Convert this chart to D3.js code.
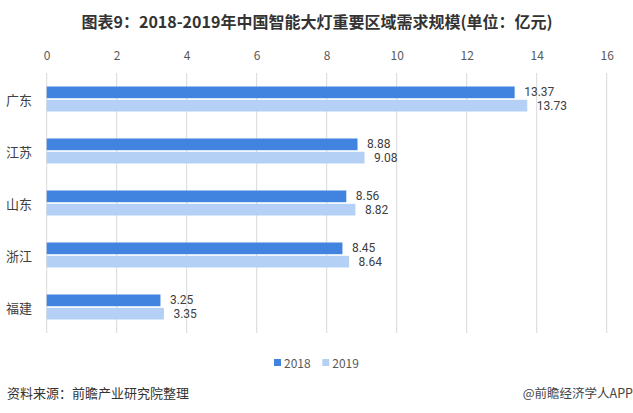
<!DOCTYPE html>
<html>
<head>
<meta charset="utf-8">
<script src="https://cdn.jsdelivr.net/npm/d3@7"></script>
<style>
  html, body { margin: 0; padding: 0; background: #fff; }
  svg { display: block; font-family: "Noto Sans CJK SC", "Noto Sans", sans-serif; }
</style>
</head>
<body>
<svg id="chart" width="633" height="413"></svg>
<script>
const categories = ["广东", "江苏", "山东", "浙江", "福建"];
const seriesNames = ["2018", "2019"];
const values2018 = [13.37, 8.88, 8.56, 8.45, 3.25];
const values2019 = [13.73, 9.08, 8.82, 8.64, 3.35];
const xTicks = [0, 2, 4, 6, 8, 10, 12, 14, 16];
const colors = ["#4184e0", "#b4d0f5"];
const titleText = "图表9：2018-2019年中国智能大灯重要区域需求规模(单位：亿元)";
const sourceText = "资料来源：前瞻产业研究院整理";
const brandText = "@前瞻经济学人APP";

(function () {
const svg = d3.select("#chart");
const plotLeft = 46.7, plotRight = 606.7, plotTop = 73, plotBottom = 333;

const x = d3.scaleLinear().domain([0, 16]).range([plotLeft, plotRight]);
const y = d3.scaleBand().domain(categories).range([plotTop, plotBottom]).padding(0);
const inner = d3.scaleBand().domain(seriesNames).range([13.5, 38.5]).paddingInner(0.12).paddingOuter(0);

// title
svg.append("text")
  .attr("x", 317).attr("y", 21)
  .attr("text-anchor", "middle").attr("dominant-baseline", "central")
  .attr("font-size", 16).attr("font-weight", "bold").attr("fill", "#333")
  .text(titleText);

// gridlines
svg.append("g").selectAll("line").data(xTicks).join("line")
  .attr("x1", d => x(d)).attr("x2", d => x(d))
  .attr("y1", plotTop).attr("y2", plotBottom)
  .attr("stroke", "#d9d9d9").attr("stroke-width", 1);

// top axis labels
const axis = d3.axisTop(x).tickValues(xTicks).tickSize(0).tickPadding(0);
const ag = svg.append("g").attr("transform", `translate(0,${56})`).call(axis);
ag.select(".domain").remove();
ag.selectAll("text")
  .attr("font-size", 12).attr("fill", "#595959")
  .attr("font-family", "\"Noto Sans CJK SC\", sans-serif")
  .attr("dy", "0.35em").attr("y", 0);

// category labels
svg.append("g").selectAll("text").data(categories).join("text")
  .attr("x", 6).attr("y", d => y(d) + y.bandwidth() / 2)
  .attr("dominant-baseline", "central")
  .attr("font-size", 13).attr("fill", "#404040")
  .text(d => d);

const data = [values2018, values2019];
seriesNames.forEach((s, si) => {
  const g = svg.append("g");
  g.selectAll("rect").data(categories).join("rect")
    .attr("x", x(0))
    .attr("y", (c) => y(c) + inner(s))
    .attr("width", (c, i) => x(data[si][i]) - x(0))
    .attr("height", inner.bandwidth())
    .attr("fill", colors[si]);
  g.selectAll("text").data(categories).join("text")
    .attr("x", (c, i) => x(data[si][i]) + 9.5)
    .attr("y", (c) => y(c) + inner(s) + inner.bandwidth() / 2)
    .attr("dominant-baseline", "central")
    .attr("font-family", "Roboto, sans-serif")
    .attr("font-size", 12).attr("fill", "#404040")
    .text((c, i) => data[si][i].toFixed(2));
});

// legend
const legendX = [274, 322.3];
seriesNames.forEach((s, si) => {
  svg.append("rect").attr("x", legendX[si]).attr("y", 359).attr("width", 7).attr("height", 7).attr("fill", colors[si]);
  svg.append("text").attr("x", legendX[si] + 10).attr("y", 362.5)
    .attr("dominant-baseline", "central").attr("font-size", 12).attr("fill", "#595959").text(s);
});

// footer
svg.append("text").attr("x", 7).attr("y", 392)
  .attr("dominant-baseline", "central").attr("font-size", 13).attr("fill", "#333")
  .text(sourceText);
svg.append("text").attr("x", 633).attr("y", 392)
  .attr("text-anchor", "end").attr("dominant-baseline", "central")
  .attr("font-size", 12.5).attr("fill", "#444")
  .text(brandText);
})();
</script>
</body>
</html>
